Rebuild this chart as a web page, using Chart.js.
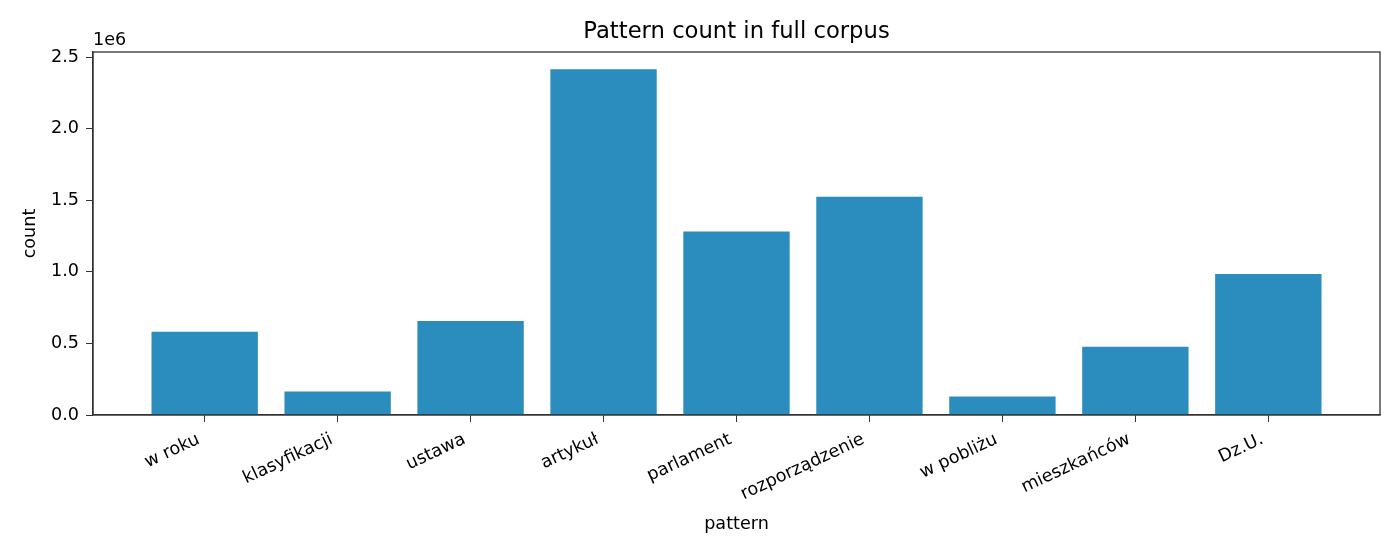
<!DOCTYPE html>
<html>
<head>
<meta charset="utf-8">
<script src="https://cdn.jsdelivr.net/npm/chart.js@4"></script>
<style>
  html, body { margin: 0; padding: 0; background: #fff; }
  #wrap { width: 1400px; height: 560px; }
</style>
</head>
<body>
<div id="wrap"><canvas id="patternChart"></canvas></div>
<script>
// dane z wykresu
var patterns = ['w roku', 'klasyfikacji', 'ustawa', 'artykuł', 'parlament', 'rozporządzenie', 'w pobliżu', 'mieszkańców', 'Dz.U.'];
var counts = [581000, 164000, 657000, 2414000, 1282000, 1525000, 130000, 477000, 984000];
var yTicks = [0, 500000, 1000000, 1500000, 2000000, 2500000];
var chartTitle = 'Pattern count in full corpus';

var axisColor = '#333';
var font = 'DejaVu Sans';
var tickSize = 17.6;

// ramka, tytuł nad obszarem wykresu i mnożnik "1e6"
var framePlugin = {
    id: 'frame',
    afterDraw: function(chart) {
        var a = chart.chartArea;
        var c = chart.ctx;
        c.save();
        c.strokeStyle = axisColor;
        c.lineWidth = 1.3;
        c.strokeRect(a.left, a.top, a.right - a.left, a.bottom - a.top);
        c.fillStyle = '#000';
        c.textBaseline = 'alphabetic';
        c.font = tickSize + 'px "' + font + '"';
        c.textAlign = 'left';
        c.fillText('1e6', a.left, a.top - 7);
        c.font = '22.7px "' + font + '"';
        c.textAlign = 'center';
        c.fillText(chartTitle, (a.left + a.right) / 2, a.top - 14);
        c.restore();
    }
};

var ctx = document.getElementById('patternChart');
var myChart = new Chart(ctx, {
    type: 'bar',
    data: {
        datasets: [{
            label: 'count',
            backgroundColor: '#2b8cbe',
            borderWidth: 0,
            barPercentage: 0.8,
            categoryPercentage: 1.0,
            data: counts.map(function(v, i) { return { x: i, y: v }; })
        }]
    },
    options: {
        responsive: true,
        maintainAspectRatio: false,
        animation: false,
        layout: { padding: { left: 0, right: 20, top: 52, bottom: 0 } },
        plugins: {
            legend: { display: false },
            tooltip: { enabled: false },
            title: { display: false }
        },
        scales: {
            x: {
                type: 'linear',
                min: -0.84,
                max: patterns.length - 1 + 0.84,
                offset: false,
                afterBuildTicks: function(scale) {
                    scale.ticks = patterns.map(function(_, i) { return { value: i }; });
                },
                afterFit: function(scale) { scale.height = 145; },
                grid: { display: true, drawOnChartArea: false, drawTicks: true, tickLength: 7, color: axisColor, offset: false },
                border: { display: true, color: axisColor, width: 1.3 },
                ticks: {
                    autoSkip: false,
                    maxRotation: 25,
                    minRotation: 25,
                    padding: 7,
                    labelOffset: -6,
                    color: '#000',
                    font: { family: font, size: tickSize },
                    callback: function(v) { return patterns[v]; }
                },
                title: {
                    display: true,
                    text: 'pattern',
                    color: '#000',
                    font: { family: font, size: tickSize },
                    padding: { top: 0, bottom: 25 }
                }
            },
            y: {
                min: 0,
                max: 2535000,
                afterBuildTicks: function(scale) {
                    scale.ticks = yTicks.map(function(v) { return { value: v }; });
                },
                afterFit: function(scale) { scale.width = 93; },
                grid: { display: true, drawOnChartArea: false, drawTicks: true, tickLength: 7, color: axisColor },
                border: { display: true, color: axisColor, width: 1.3 },
                ticks: {
                    padding: 7,
                    color: '#000',
                    font: { family: font, size: tickSize },
                    callback: function(v) { return (v / 1e6).toFixed(1); }
                },
                title: {
                    display: true,
                    text: 'count',
                    color: '#000',
                    font: { family: font, size: tickSize },
                    padding: { top: 20, bottom: 0 }
                }
            }
        }
    },
    plugins: [framePlugin]
});
</script>
</body>
</html>
